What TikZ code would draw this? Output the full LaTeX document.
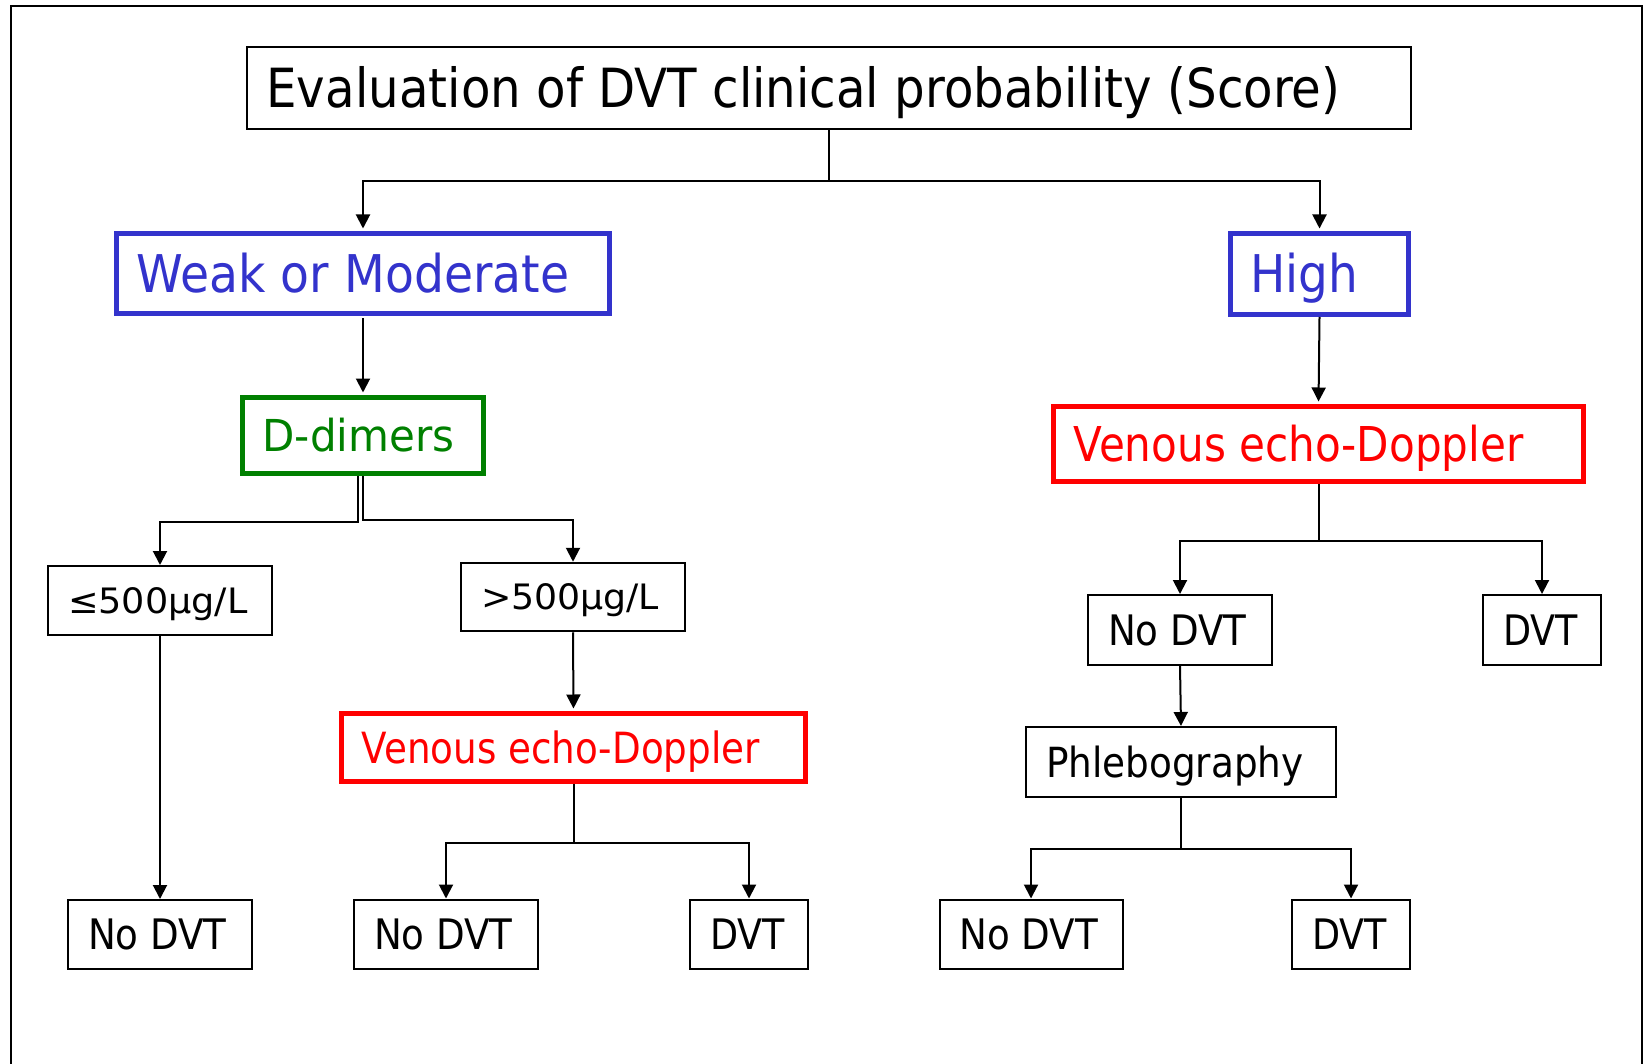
\documentclass[tikz,border=0pt]{standalone}
\usepackage{graphicx}
\usepackage{fontspec}
\setmainfont{DejaVu Sans}[FakeStretch=0.86]
\usetikzlibrary{arrows.meta}
\definecolor{myblue}{RGB}{51,51,204}
\definecolor{myred}{RGB}{255,0,0}
\definecolor{mygreen}{RGB}{0,128,0}
\newcommand{\boxtxt}[3]{\makebox[#1][l]{\scalebox{#2}[1]{#3}}}
\newcommand{\fsz}[1]{\fontsize{#1}{#1}\selectfont}
\begin{document}
\begin{tikzpicture}[x=1pt,y=-1pt,
  box/.style={draw=black, line width=2pt, inner xsep=20pt, inner ysep=0pt, text depth=0pt, anchor=center},
  cbox/.style={box, line width=5pt, draw=#1, text=#1},
  arr/.style={line width=2pt, -{Triangle[length=14pt,width=14pt]}},
  tothick/.style={shorten >=2.5pt}]
\useasboundingbox (0,0) rectangle (1645,1064);
\fill[white] (0,0) rectangle (1645,1064);
\draw[line width=2.5pt, line join=miter] (11,1070) -- (11,6) -- (1642,6) -- (1642,1070);

\node[box, minimum width=1164.5pt, minimum height=82pt, text height=39.4pt] (title) at (828.75,88) {\fsz{54}\boxtxt{1124.5pt}{1.039}{Evaluation of DVT clinical probability (Score)}};

\node[cbox=myblue, minimum width=493pt, minimum height=80pt, text height=37.9pt] (weak) at (363,273.5) {\fsz{52}\boxtxt{453pt}{1.057}{Weak or Moderate}};
\node[cbox=myblue, minimum width=178pt, minimum height=81pt, text height=37.9pt] (high) at (1319.5,274) {\fsz{52}\boxtxt{138pt}{1.05}{High}};

\node[cbox=mygreen, minimum width=241pt, minimum height=76pt, text height=32pt] (ddim) at (363,435.5) {\fsz{44}\boxtxt{201pt}{1.11}{D-dimers}};

\node[box, minimum width=224pt, minimum height=69pt, text height=25.5pt] (le500) at (160,600.5) {\fsz{35}\boxtxt{184pt}{1.215}{≤500µg/L}};
\node[box, minimum width=224pt, minimum height=68.5pt, text height=25.5pt] (gt500) at (573,597) {\fsz{35}\boxtxt{184pt}{1.205}{>500µg/L}};

\node[cbox=myred, minimum width=464pt, minimum height=68pt, text height=31.3pt] (vedL) at (573.5,747.5) {\fsz{43}\boxtxt{424pt}{1.008}{Venous echo-Doppler}};
\node[cbox=myred, minimum width=530pt, minimum height=75pt, text height=35pt] (vedR) at (1318.5,444) {\fsz{48}\boxtxt{490pt}{1.02}{Venous echo-Doppler}};

\node[box, minimum width=184pt, minimum height=69pt, text height=30.6pt] (nodvtA) at (160,934.5) {\fsz{42}\boxtxt{144pt}{1.03}{No DVT}};
\node[box, minimum width=184pt, minimum height=69pt, text height=30.6pt] (nodvtB) at (446,934) {\fsz{42}\boxtxt{144pt}{1.03}{No DVT}};
\node[box, minimum width=118pt, minimum height=69pt, text height=30.6pt] (dvtB) at (749,934) {\fsz{42}\boxtxt{78pt}{1.01}{DVT}};

\node[box, minimum width=184pt, minimum height=70pt, text height=30.6pt] (nodvtR) at (1180,630) {\fsz{42}\boxtxt{144pt}{1.03}{No DVT}};
\node[box, minimum width=118pt, minimum height=70pt, text height=30.6pt] (dvtR) at (1542,630) {\fsz{42}\boxtxt{78pt}{1.01}{DVT}};

\node[box, minimum width=310pt, minimum height=70pt, text height=30.3pt] (phleb) at (1181,762) {\fsz{41.5}\boxtxt{270pt}{1.047}{Phlebography}};

\node[box, minimum width=183pt, minimum height=69pt, text height=30.6pt] (nodvtC) at (1031,934) {\fsz{42}\boxtxt{143pt}{1.03}{No DVT}};
\node[box, minimum width=118pt, minimum height=69pt, text height=30.6pt] (dvtC) at (1351,934) {\fsz{42}\boxtxt{78pt}{1.01}{DVT}};

\draw[arr, tothick] (title.south) -- ++(0,51) -| (weak.north);
\draw[arr, tothick] (title.south) -- ++(0,51) -| (high.north);
\draw[arr, tothick, shorten <=2.5pt] (weak.south) -- (ddim.north);
\draw[arr] ([xshift=-5pt]ddim.south) -- ++(0,45.5) -| (le500.north);
\draw[arr] (ddim.south) -- ++(0,43.5) -| (gt500.north);
\draw[arr, tothick] (gt500.south) -- (vedL.north);
\draw[arr] (vedL.south) -- ++(0,58.5) -| (nodvtB.north);
\draw[arr] (vedL.south) -- ++(0,58.5) -| (dvtB.north);
\draw[arr] (le500.south) -- (nodvtA.north);
\draw[arr, tothick] (high.south) -- (vedR.north);
\draw[arr] (vedR.south) -- ++(0,56.5) -| (nodvtR.north);
\draw[arr] (vedR.south) -- ++(0,56.5) -| (dvtR.north);
\draw[arr] (nodvtR.south) -- (phleb.north);
\draw[arr] (phleb.south) -- ++(0,51) -| (nodvtC.north);
\draw[arr] (phleb.south) -- ++(0,51) -| (dvtC.north);
\end{tikzpicture}
\end{document}
